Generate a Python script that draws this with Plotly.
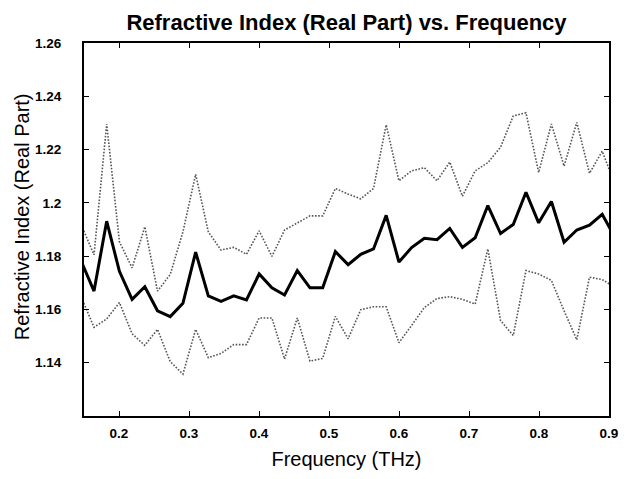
import plotly.graph_objects as go

freq = [0.1461, 0.1643, 0.1824, 0.2006, 0.2187, 0.2369, 0.2550, 0.2732, 0.2913, 0.3095,
        0.3276, 0.3458, 0.3639, 0.3821, 0.4002, 0.4184, 0.4365, 0.4547, 0.4728, 0.4910,
        0.5091, 0.5273, 0.5454, 0.5636, 0.5817, 0.5999, 0.6180, 0.6362, 0.6543, 0.6725,
        0.6906, 0.7088, 0.7269, 0.7451, 0.7632, 0.7814, 0.7995, 0.8177, 0.8358, 0.8540,
        0.8721, 0.8903, 0.9084]

n_mean = [1.178, 1.1669, 1.1931, 1.1743, 1.1638, 1.1685, 1.1595, 1.1573, 1.1623, 1.1815,
          1.1651, 1.163, 1.1651, 1.1636, 1.1733, 1.1681, 1.1654, 1.1746, 1.1681, 1.1681,
          1.1817, 1.1768, 1.1807, 1.1827, 1.1953, 1.1778, 1.1832, 1.1867, 1.1862, 1.1904,
          1.1833, 1.1869, 1.199, 1.1885, 1.1919, 1.204, 1.1925, 1.2005, 1.1852, 1.1898,
          1.1916, 1.1957, 1.187]

n_upper = [1.1917, 1.1805, 1.2296, 1.1854, 1.1756, 1.191, 1.1669, 1.1731, 1.1891, 1.2107,
           1.1891, 1.1823, 1.1833, 1.1807, 1.1895, 1.1799, 1.1898, 1.1926, 1.1951, 1.1951,
           1.2054, 1.2033, 1.2015, 1.2054, 1.2293, 1.2083, 1.212, 1.2132, 1.2083, 1.2153,
           1.2025, 1.212, 1.2151, 1.2209, 1.2326, 1.2338, 1.2114, 1.2296, 1.2138, 1.2302,
           1.2111, 1.2194, 1.2068]

n_lower = [1.1646, 1.1533, 1.1564, 1.1626, 1.1509, 1.1465, 1.1525, 1.1404, 1.1357, 1.1525,
           1.1419, 1.1435, 1.1468, 1.1468, 1.1568, 1.1568, 1.1414, 1.1568, 1.1406, 1.1416,
           1.1574, 1.149, 1.1599, 1.161, 1.161, 1.1475, 1.154, 1.1607, 1.1641, 1.1648,
           1.1638, 1.162, 1.1827, 1.1558, 1.1502, 1.1746, 1.1733, 1.1709, 1.1595, 1.1486,
           1.1721, 1.1712, 1.1683]

x_ticks = [0.2, 0.3, 0.4, 0.5, 0.6, 0.7, 0.8, 0.9]
x_ticktext = ["0.2", "0.3", "0.4", "0.5", "0.6", "0.7", "0.8", "0.9"]
y_ticks = [1.14, 1.16, 1.18, 1.20, 1.22, 1.24, 1.26]
y_ticktext = ["1.14", "1.16", "1.18", "1.2", "1.22", "1.24", "1.26"]

dot_style = dict(color="#555555", width=1.6, dash="1.6px,1.6px")

fig = go.Figure()
fig.add_trace(go.Scatter(x=freq, y=n_upper, mode="lines", line=dot_style, showlegend=False))
fig.add_trace(go.Scatter(x=freq, y=n_lower, mode="lines", line=dot_style, showlegend=False))
fig.add_trace(go.Scatter(x=freq, y=n_mean, mode="lines",
                         line=dict(color="black", width=3), showlegend=False))

font_family = "Liberation Sans, Arial, sans-serif"
W, H = 625, 471
fig.update_layout(
    width=W, height=H,
    margin=dict(l=76, r=24, t=35, b=59),
    paper_bgcolor="white", plot_bgcolor="white",
    font=dict(family=font_family, color="black"),
    title=dict(text="<b>Refractive Index (Real Part) vs. Frequency</b>",
               x=(76 + 601) / 2 / W, xanchor="center", y=1 - 14 / H, yanchor="middle",
               font=dict(size=22, family=font_family, color="black")),
    annotations=[dict(text="Refractive Index (Real Part)", textangle=-90,
                      xref="paper", yref="paper", x=-0.118, y=0.533,
                      xanchor="center", yanchor="middle", showarrow=False,
                      font=dict(size=20, family=font_family, color="black"))],
)
fig.update_xaxes(range=[0.15, 0.9], tickvals=x_ticks, ticktext=x_ticktext,
                 ticks="inside", ticklen=5, tickwidth=1, tickcolor="black",
                 showline=True, linecolor="black", linewidth=2, mirror="ticks",
                 showgrid=False, zeroline=False, ticklabelstandoff=4,
                 tickfont=dict(size=13.5, family=font_family, color="black", weight="bold"),
                 title=dict(text="Frequency (THz)", font=dict(size=20, family=font_family), standoff=12))
fig.update_yaxes(range=[1.12, 1.26], tickvals=y_ticks, ticktext=y_ticktext,
                 ticks="inside", ticklen=5, tickwidth=1, tickcolor="black",
                 showline=True, linecolor="black", linewidth=2, mirror="ticks",
                 showgrid=False, zeroline=False, ticklabelstandoff=18,
                 tickfont=dict(size=13.5, family=font_family, color="black", weight="bold"))

fig.write_html("out.html")
